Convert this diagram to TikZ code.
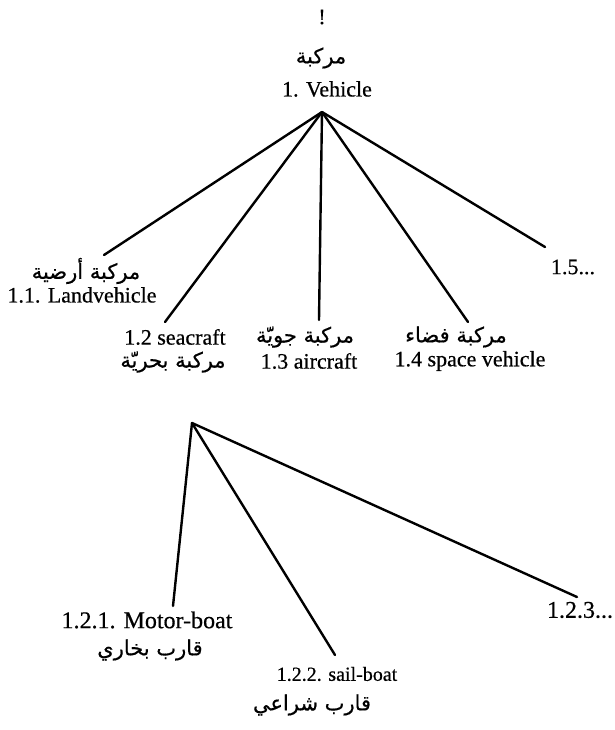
\documentclass[tikz,border=0pt]{standalone}
\usepackage{fontspec}
\setmainfont{Liberation Serif}[FakeBold=0.5]
\newfontfamily\arabicfont[Script=Arabic,FakeBold=0.5]{DejaVu Sans}
\TeXXeTstate=1
\newcommand\arabtext[1]{{\arabicfont\beginR #1\endR}}
\begin{document}
\begin{tikzpicture}[x=1pt,y=-1pt,
  lat/.style={inner sep=0pt,font=\fontsize{22}{25}\selectfont},
  latbig/.style={inner sep=0pt,font=\fontsize{24}{27}\selectfont},
  latsmall/.style={inner sep=0pt,font=\fontsize{20}{23}\selectfont},
  arb/.style={inner sep=0pt,font=\fontsize{21}{24}\selectfont},
  branch/.style={line width=2.4pt,line cap=round}]
\useasboundingbox (0,0) rectangle (614,730);

% root
\node[lat] (bang) at (322,17) {!};
\node[arb] (vehAr) at (321,58) {\arabtext{مركبة}};
\node[lat] (veh) at (327,89) {1. Vehicle};
\coordinate (top) at (322,112);

% first level
\node[arb] (landAr) at (86,271) {\arabtext{مركبة أرضية}};
\node[lat] (land) at (82,295) {1.1. Landvehicle};
\node[lat] (sea) at (175,337) {1.2 seacraft};
\node[arb] (seaAr) at (173,362) {\arabtext{مركبة بحريّة}};
\node[arb] (airAr) at (305,337) {\arabtext{مركبة جويّة}};
\node[lat] (air) at (309,361) {1.3 aircraft};
\node[arb] (spaceAr) at (456,337) {\arabtext{مركبة فضاء}};
\node[lat] (space) at (470,361) {1.4 space vehicle};
\node[lat] (more) at (573,267) {1.5...};

\coordinate (eLand) at (104,255);
\coordinate (eSea) at (165,322);
\coordinate (eAir) at (319,320);
\coordinate (eSpace) at (468,322);
\coordinate (eMore) at (545,247);

\foreach \e in {eLand,eSea,eAir,eSpace,eMore}
  \draw[branch] (top) -- (\e);

% second level under seacraft
\coordinate (sub) at (192,423);
\node[latbig] (motor) at (147,620) {1.2.1. Motor-boat};
\node[arb] (motorAr) at (150,650) {\arabtext{قارب بخاري}};
\node[latsmall] (sail) at (337,674) {1.2.2. sail-boat};
\node[arb] (sailAr) at (312,705) {\arabtext{قارب شراعي}};
\node[latbig] (third) at (580,610) {1.2.3...};

\coordinate (eMotor) at (173,606);
\coordinate (eSail) at (335,655);
\coordinate (eThird) at (577,597);

\foreach \e in {eMotor,eSail,eThird}
  \draw[branch] (sub) -- (\e);
\end{tikzpicture}
\end{document}
